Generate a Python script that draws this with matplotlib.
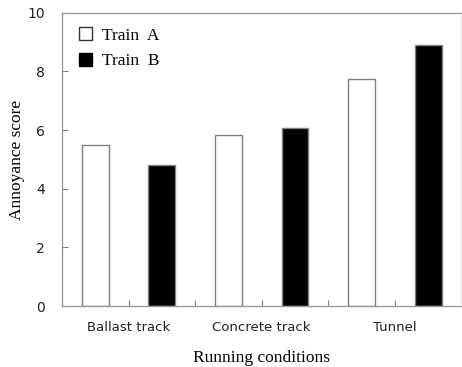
import numpy as np
import matplotlib
matplotlib.use('Agg')
import matplotlib.pyplot as plt
from matplotlib.patches import Patch

# annoyance scores per running condition
conditions = ['Ballast track', 'Concrete track', 'Tunnel']
train_a = [5.48, 5.82, 7.75]
train_b = [4.80, 6.08, 8.92]

x = np.arange(len(conditions))
w = 0.2
edge = '#808080'
serif = 'Liberation Serif'

fig = plt.figure(figsize=(4.62, 3.67), dpi=100)
ax = fig.add_axes([0.134, 0.166, 0.865, 0.799])

ax.bar(x - 0.25, train_a, w, color='white', edgecolor=edge, linewidth=1.0)
ax.bar(x + 0.25, train_b, w, color='black', edgecolor=edge, linewidth=1.0)

ax.set_xlim(-0.5, 2.5)
ax.set_ylim(0, 10)
ax.set_yticks([0, 2, 4, 6, 8, 10])
ax.set_xticks(x)
ax.set_xticklabels(conditions, fontsize=9.5, family='DejaVu Sans', color='#222222')
ax.set_xticks([0.5, 1.5], minor=True)
for lab in ax.get_yticklabels():
    lab.set_fontsize(10)
    lab.set_color('#222222')

ax.tick_params(axis='both', which='both', direction='in', length=4, color=edge, width=0.8)
ax.tick_params(axis='x', pad=11)
ax.tick_params(axis='y', pad=12)

for s in ax.spines.values():
    s.set_color('#999999')
    s.set_linewidth(1.0)

ax.set_ylabel('Annoyance score', fontsize=12.5, family=serif, labelpad=2)
ax.set_xlabel('Running conditions', fontsize=12.5, family=serif, labelpad=11)

handles = [Patch(facecolor='white', edgecolor='#333333', linewidth=1.0),
           Patch(facecolor='black', edgecolor='black', linewidth=1.0)]
ax.legend(handles, ['Train  A', 'Train  B'], loc='upper left', frameon=False,
          prop={'family': serif, 'size': 12.5}, handlelength=0.75,
          handleheight=0.75, handletextpad=0.6, labelspacing=0.55,
          borderaxespad=0, bbox_to_anchor=(0.025, 0.975))

plt.savefig('out.png', dpi=100)
plt.close()
